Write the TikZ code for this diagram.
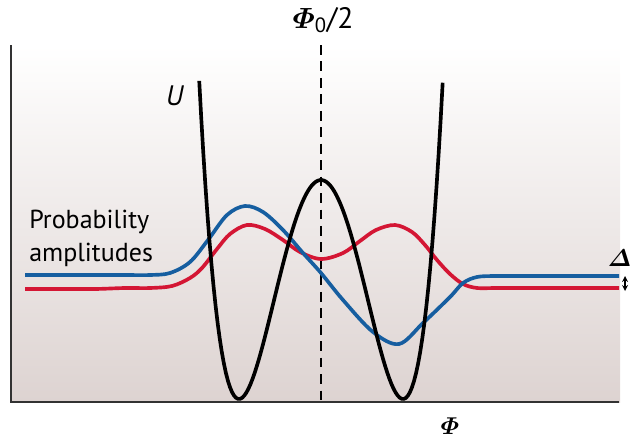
\documentclass[tikz,border=0pt]{standalone}
\usepackage{amsmath}
\usepackage{fontspec}
\setmainfont{PT Sans}
\definecolor{ampblue}{RGB}{22,94,160}
\definecolor{ampred}{RGB}{212,22,52}
\definecolor{bgpink}{RGB}{221,211,209}
\definecolor{axisgrey}{RGB}{50,50,50}
\begin{document}
\begin{tikzpicture}[x=0.025cm, y=-0.025cm, >=stealth,
    axisline/.style={axisgrey, line width=1.4pt},
    amp/.style={line width=2.6pt, smooth, tension=0.55},
    potential/.style={black, line width=2.6pt},
    lbl/.style={inner sep=0pt, font=\fontsize{18}{22}\selectfont},
    boldlbl/.style={inner sep=0pt, font=\fontsize{#1}{24}\selectfont\boldmath}]
  \useasboundingbox (0,0) rectangle (632,441);
  \shade[top color=white, bottom color=bgpink] (11,45) rectangle (620,402);
  \draw[axisline] (11,45) -- (11,402) -- (619,402);
  \draw[black, line width=1.4pt, dash pattern=on 7pt off 4.7pt] (321,45) -- (321,401);
  \draw[amp, ampred] plot coordinates {(25,289) (60,289) (95,289) (125,288) (150,288) (172,286) (190,278) (202,268) (217,249) (230,234) (247,225) (265,229) (283,240) (300,252) (321,259) (343,253) (360,241) (376,230) (395,225) (412,232) (425,245) (437,260) (450,274) (463,284) (477,288) (495,288) (520,288) (550,288) (585,288) (619,288)};
  \draw[amp, ampblue] plot coordinates {(25,275) (60,275) (95,275) (125,275) (150,275) (170,273) (190,262) (208,240) (227,215) (245,206) (263,212) (283,230) (303,253) (321,273) (343,300) (373,332) (399,344) (423,323) (450,297) (463,283) (477,277) (495,276) (520,276) (550,276) (585,276) (619,276)};
  \draw[potential] plot[domain=-1.485:1.485, samples=120] ({321+82*\x}, {399-219*(\x*\x-1)^2});
  \node[boldlbl=21] (halfflux) at (323,20) {$\varPhi$\textsubscript{0}/2};
  \node[lbl, font=\fontsize{20}{24}\selectfont] (ulabel) at (175,96) {\textit{U}};
  \node[lbl, font=\fontsize{18.5}{23}\selectfont, anchor=north west, align=left] (amplabel) at (29,210) {Probability\\amplitudes};
  \node[boldlbl=19] (fluxlabel) at (450,426) {$\varPhi$};
  \node[boldlbl=18, anchor=east] (gaplabel) at (631.5,258) {$\varDelta$};
  \coordinate (gaptop) at (625,276);
  \coordinate (gapbot) at (625,291);
  \draw[<->, line width=0.9pt] (gaptop) -- (gapbot);
\end{tikzpicture}
\end{document}
